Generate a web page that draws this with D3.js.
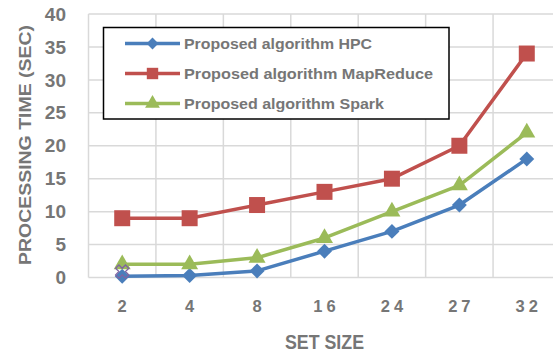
<!DOCTYPE html>
<html>
<head>
<meta charset="utf-8">
<script src="https://cdn.jsdelivr.net/npm/d3@7"></script>
<style>
  html, body { margin: 0; padding: 0; background: #fff; }
  svg { display: block; font-family: "Liberation Sans", Arial, sans-serif; }
</style>
</head>
<body>
<svg id="chart" width="553" height="355"></svg>
<script>
// Set sizes on the x axis
const categories = ["2", "4", "8", "16", "24", "27", "32"];
// Processing time (sec) per set size
const hpcValues = [0.2, 0.3, 1, 4, 7, 11, 18];
const mapReduceValues = [9, 9, 11, 13, 15, 20, 34];
const sparkValues = [2, 2, 3, 6, 10, 14, 22];
// Single stray point drawn as an X marker at the first set size
const strayValues = [0.9];
const yTicks = [0, 5, 10, 15, 20, 25, 30, 35, 40];
const seriesNames = ["Proposed algorithm HPC", "Proposed algorithm MapReduce", "Proposed algorithm Spark"];

const svg = d3.select("#chart");
const plot = { left: 88.5, right: 560.5, top: 14, bottom: 277.5 };

const x = d3.scaleBand().domain(categories).range([plot.left, plot.right]);
const y = d3.scaleLinear().domain([0, 40]).range([plot.bottom, plot.top]);
const cx = c => x(c) + x.bandwidth() / 2;

const gridColor = "#d9d9d9";
const textColor = "#767676";

// Horizontal gridlines
svg.append("g").selectAll("line").data(yTicks).join("line")
  .attr("x1", plot.left).attr("x2", plot.right)
  .attr("y1", d => y(d)).attr("y2", d => y(d))
  .attr("stroke", gridColor).attr("stroke-width", 1.5);

// Vertical gridlines at category boundaries
const bounds = categories.map(c => x(c)).concat([x(categories[categories.length - 1]) + x.bandwidth()]);
svg.append("g").selectAll("line").data(bounds).join("line")
  .attr("x1", d => d).attr("x2", d => d)
  .attr("y1", plot.top).attr("y2", plot.bottom)
  .attr("stroke", gridColor).attr("stroke-width", 1.5);

// Y tick labels
svg.append("g").selectAll("text").data(yTicks).join("text")
  .attr("x", 66).attr("y", d => y(d))
  .attr("dy", "0.35em")
  .attr("text-anchor", "end")
  .attr("font-size", 19).attr("font-weight", "bold")
  .attr("fill", textColor)
  .text(d => d);

// X tick labels (letter-spaced)
svg.append("g").selectAll("text").data(categories).join("text")
  .attr("x", d => cx(d) + 2).attr("y", 312)
  .attr("text-anchor", "middle")
  .attr("font-size", 16.5).attr("font-weight", "bold")
  .attr("letter-spacing", 4)
  .attr("fill", textColor)
  .text(d => d);

// Axis titles
svg.append("text")
  .attr("x", 324.5).attr("y", 349)
  .attr("text-anchor", "middle")
  .attr("font-size", 21).attr("font-weight", "bold")
  .attr("fill", textColor)
  .attr("textLength", 79).attr("lengthAdjust", "spacingAndGlyphs")
  .text("SET SIZE");

svg.append("text")
  .attr("transform", "translate(31,145) rotate(-90)")
  .attr("text-anchor", "middle")
  .attr("font-size", 16).attr("font-weight", "bold")
  .attr("fill", textColor)
  .attr("textLength", 240).attr("lengthAdjust", "spacingAndGlyphs")
  .text("PROCESSING TIME (SEC)");

// Diamond markers are squares turned by 45 degrees
const series = [
  { name: seriesNames[0], values: hpcValues, color: "#4a7ebb", shape: d3.symbolSquare, size: 112, rotate: 45 },
  { name: seriesNames[1], values: mapReduceValues, color: "#c0504d", shape: d3.symbolSquare, size: 256, rotate: 0 },
  { name: seriesNames[2], values: sparkValues, color: "#9bbb59", shape: d3.symbolTriangle, size: 125, rotate: 0 }
];

const line = d3.line().x((d, i) => cx(categories[i])).y(d => y(d));

// Lines and markers
series.forEach(s => {
  svg.append("path")
    .datum(s.values)
    .attr("d", line)
    .attr("fill", "none")
    .attr("stroke", s.color)
    .attr("stroke-width", 3.5)
    .attr("stroke-linejoin", "round");
});
series.forEach(s => {
  svg.append("g").selectAll("path").data(s.values).join("path")
    .attr("transform", (d, i) => `translate(${cx(categories[i])},${y(d)}) rotate(${s.rotate})`)
    .attr("d", d3.symbol(s.shape, s.size))
    .attr("fill", s.color);
});

// Stray X marker
svg.append("g").selectAll("path").data(strayValues).join("path")
  .attr("transform", (d, i) => `translate(${cx(categories[i])},${y(d)}) rotate(45)`)
  .attr("d", d3.symbol(d3.symbolCross, 110))
  .attr("fill", "none")
  .attr("stroke", "#8064a2")
  .attr("stroke-width", 1.3);

// Legend
const legend = svg.append("g");
legend.append("rect")
  .attr("x", 103.5).attr("y", 27.5).attr("width", 345.5).attr("height", 91.5)
  .attr("fill", "#fff").attr("stroke", "#000").attr("stroke-width", 1.5);
const legendRows = [43.5, 73.5, 103.5];
const legendWidths = [188, 249, 200];
const legendSizes = [70, 130, 95];
series.forEach((s, i) => {
  const row = legend.append("g").attr("transform", `translate(0,${legendRows[i]})`);
  row.append("line").attr("x1", 125).attr("x2", 180).attr("y1", 0).attr("y2", 0)
    .attr("stroke", s.color).attr("stroke-width", 3.5);
  row.append("path").attr("transform", `translate(152.5,0) rotate(${s.rotate})`)
    .attr("d", d3.symbol(s.shape, legendSizes[i])).attr("fill", s.color);
  row.append("text")
    .attr("x", 184).attr("y", 0).attr("dy", "0.36em")
    .attr("font-size", 15.5).attr("font-weight", "bold")
    .attr("fill", textColor)
    .attr("textLength", legendWidths[i]).attr("lengthAdjust", "spacingAndGlyphs")
    .text(s.name);
});
</script>
</body>
</html>
